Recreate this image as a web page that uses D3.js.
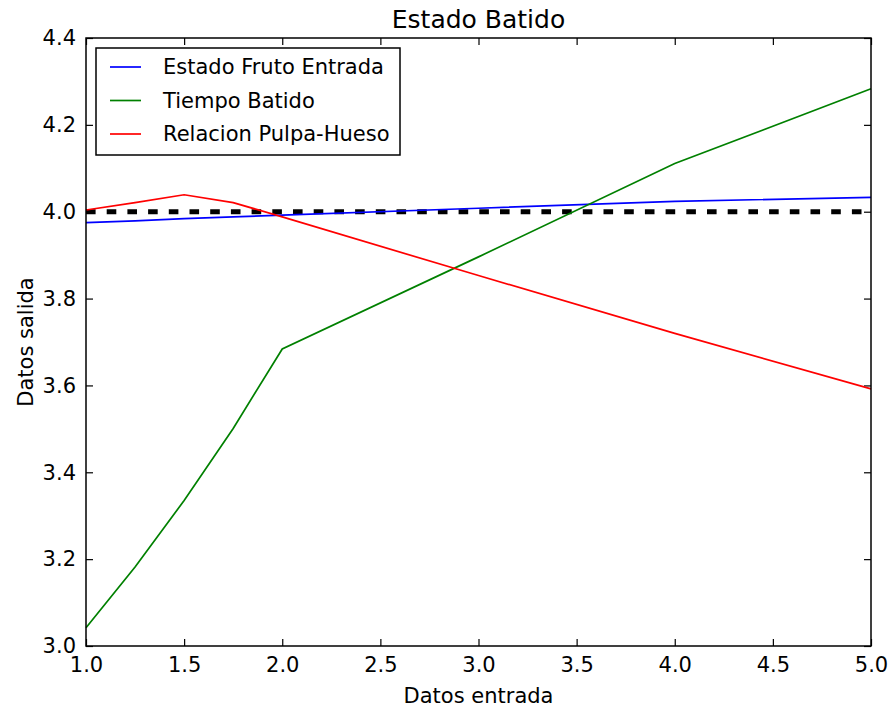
<!DOCTYPE html>
<html>
<head>
<meta charset="utf-8">
<script src="https://cdn.jsdelivr.net/npm/d3@7"></script>
<style>
  body { margin: 0; background: #fff; }
  text { font-family: "DejaVu Sans", sans-serif; fill: #000; }
</style>
</head>
<body>
<div id="chart"></div>
<script>
const xValues = [1, 1.25, 1.5, 1.75, 2, 3, 4, 5];
const estadoFruto = [3.975, 3.979, 3.984, 3.988, 3.992, 4.008, 4.024, 4.033];
const tiempoBatido = [3.042, 3.182, 3.335, 3.501, 3.684, 3.896, 4.111, 4.283];
const relacionPulpa = [4.004, 4.021, 4.039, 4.021, 3.988, 3.853, 3.720, 3.592];
const referenceLevel = 4.0;
const seriesNames = ["Estado Fruto Entrada", "Tiempo Batido", "Relacion Pulpa-Hueso"];
const seriesColors = ["#0000ff", "#008000", "#ff0000"];
const xTicks = [1.0, 1.5, 2.0, 2.5, 3.0, 3.5, 4.0, 4.5, 5.0];
const yTicks = [3.0, 3.2, 3.4, 3.6, 3.8, 4.0, 4.2, 4.4];

const width = 889;
const height = 711;
const margin = { top: 38, right: 18, bottom: 65, left: 86 };
const w = width - margin.left - margin.right;
const h = height - margin.top - margin.bottom;

const svg = d3.select('#chart')
  .append('svg')
  .attr('width', width)
  .attr('height', height);

const g = svg.append('g')
  .attr('transform', `translate(${margin.left},${margin.top})`);

const x = d3.scaleLinear().domain([1, 5]).range([0, w]);
const y = d3.scaleLinear().domain([3.0, 4.4]).range([h, 0]);

// ticks pointing inward on all four sides
const tickLen = 7;
g.append('g')
  .attr('transform', `translate(0,${h})`)
  .call(d3.axisBottom(x).tickValues(xTicks).tickFormat(d3.format('.1f')).tickSizeInner(-tickLen).tickSizeOuter(0).tickPadding(11))
  .call(ax => ax.select('.domain').remove())
  .attr('font-size', '21px');
g.append('g')
  .call(d3.axisTop(x).tickValues(xTicks).tickFormat('').tickSizeInner(-tickLen).tickSizeOuter(0))
  .call(ax => ax.select('.domain').remove());
g.append('g')
  .call(d3.axisLeft(y).tickValues(yTicks).tickFormat(d3.format('.1f')).tickSizeInner(-tickLen).tickSizeOuter(0).tickPadding(10))
  .call(ax => ax.select('.domain').remove())
  .attr('font-size', '21px');
g.append('g')
  .attr('transform', `translate(${w},0)`)
  .call(d3.axisRight(y).tickValues(yTicks).tickFormat('').tickSizeInner(-tickLen).tickSizeOuter(0))
  .call(ax => ax.select('.domain').remove());

g.selectAll('.tick line').attr('stroke', '#000').attr('stroke-width', 1.2);
g.selectAll('.tick text').attr('fill', '#000').style('font-family', '"DejaVu Sans", sans-serif');

// dashed reference line
g.append('line')
  .attr('x1', x(1)).attr('x2', x(5))
  .attr('y1', y(referenceLevel)).attr('y2', y(referenceLevel))
  .attr('stroke', '#000')
  .attr('stroke-width', 5)
  .attr('stroke-dasharray', '9.6,11.1');

const line = d3.line()
  .x(d => x(d[0]))
  .y(d => y(d[1]));

[estadoFruto, tiempoBatido, relacionPulpa].forEach((vals, i) => {
  g.append('path')
    .datum(xValues.map((xv, j) => [xv, vals[j]]))
    .attr('fill', 'none')
    .attr('stroke', seriesColors[i])
    .attr('stroke-width', 1.7)
    .attr('d', line);
});

// frame
g.append('rect')
  .attr('width', w).attr('height', h)
  .attr('fill', 'none')
  .attr('stroke', '#000')
  .attr('stroke-width', 1.5);

// legend
const legend = g.append('g').attr('transform', 'translate(10,10)');
legend.append('rect')
  .attr('width', 304).attr('height', 107)
  .attr('fill', '#fff')
  .attr('stroke', '#000')
  .attr('stroke-width', 1.5);
seriesNames.forEach((name, i) => {
  const ry = 19 + i * 33.5;
  legend.append('line')
    .attr('x1', 14).attr('x2', 45)
    .attr('y1', ry).attr('y2', ry)
    .attr('stroke', seriesColors[i])
    .attr('stroke-width', 1.7);
  legend.append('text')
    .attr('x', 67).attr('y', ry)
    .attr('dy', '0.35em')
    .style('font-size', '21px')
    .text(name);
});

// title and axis labels
svg.append('text')
  .attr('x', margin.left + w / 2)
  .attr('y', 28)
  .attr('text-anchor', 'middle')
  .style('font-size', '25px')
  .text('Estado Batido');

svg.append('text')
  .attr('x', margin.left + w / 2)
  .attr('y', 703)
  .attr('text-anchor', 'middle')
  .style('font-size', '21px')
  .text('Datos entrada');

svg.append('text')
  .attr('transform', `translate(33,${margin.top + h / 2}) rotate(-90)`)
  .attr('text-anchor', 'middle')
  .style('font-size', '21px')
  .text('Datos salida');
</script>
</body>
</html>
